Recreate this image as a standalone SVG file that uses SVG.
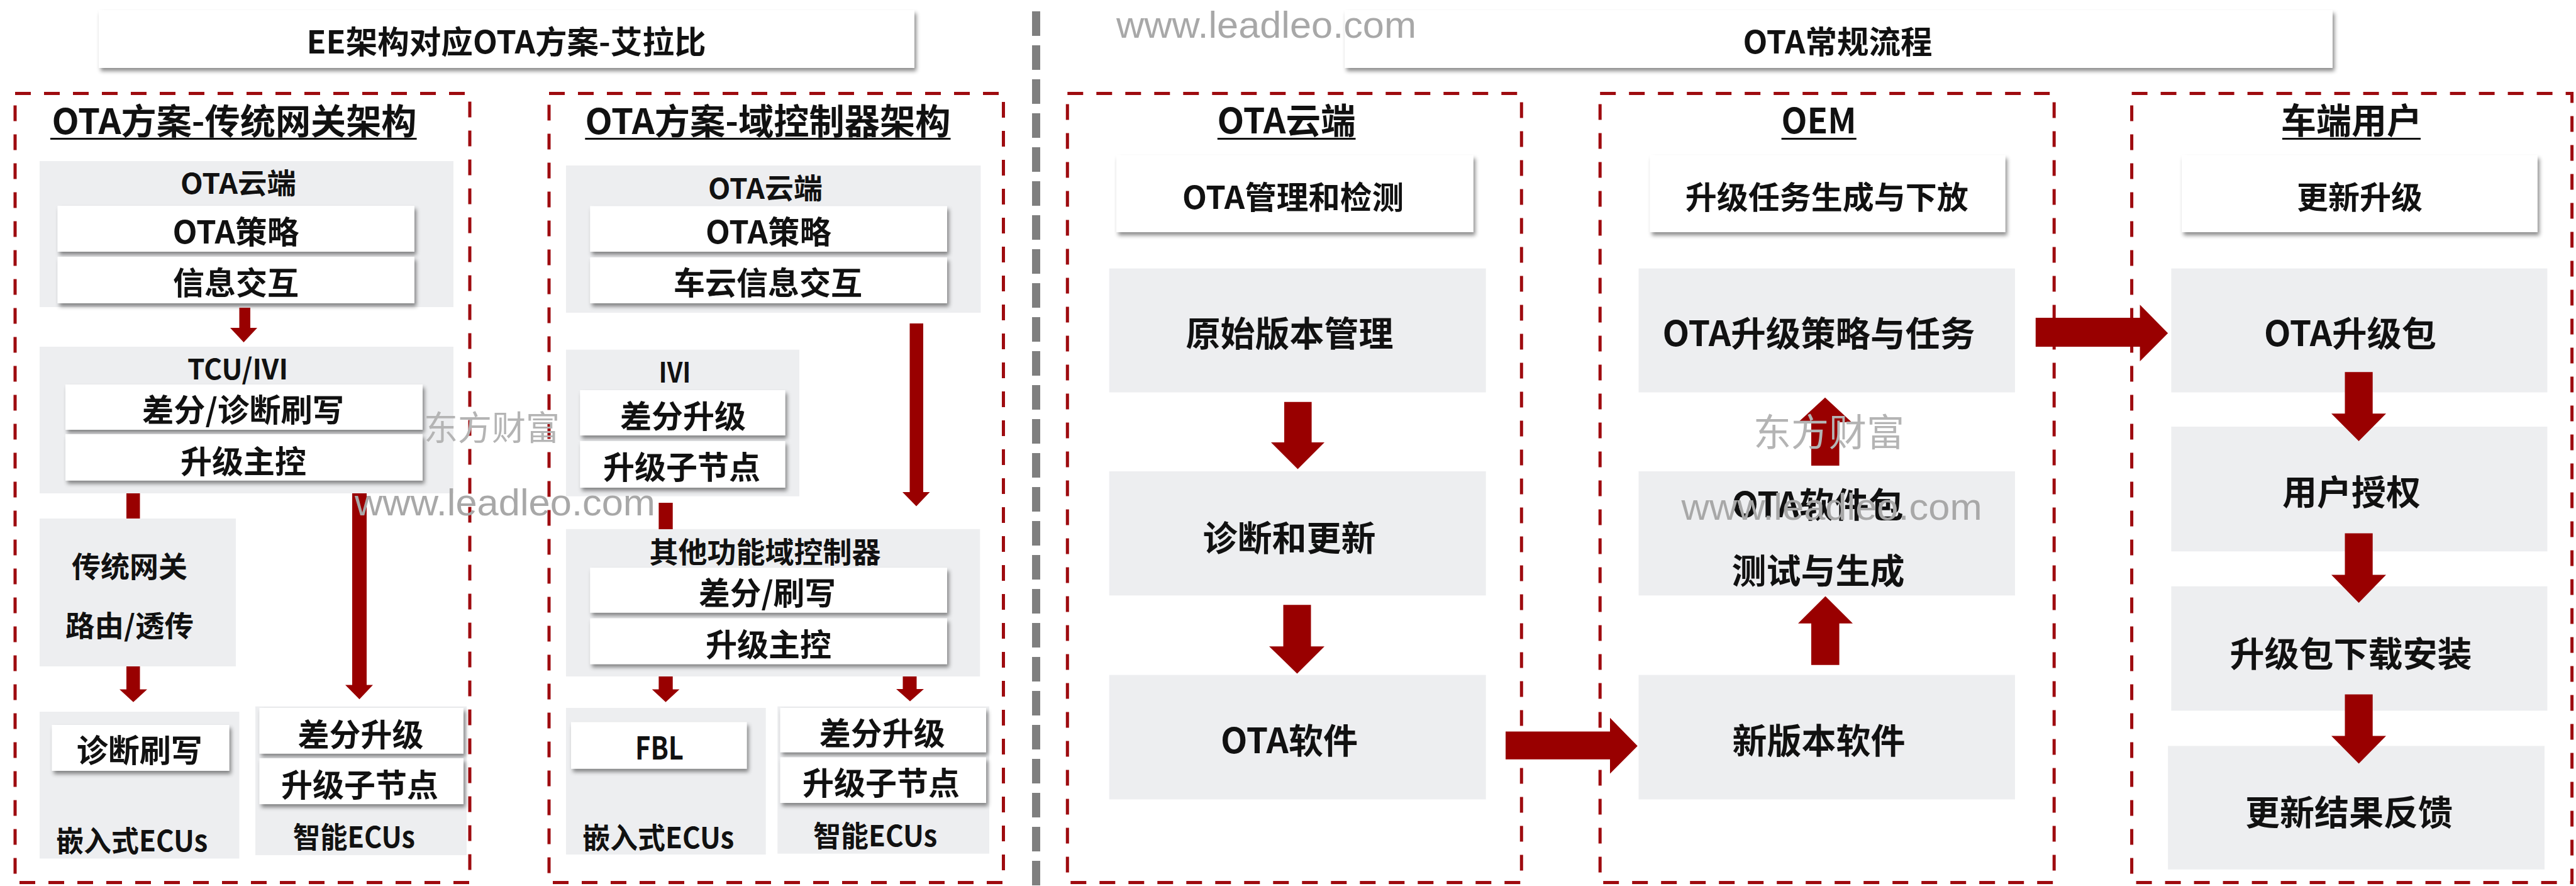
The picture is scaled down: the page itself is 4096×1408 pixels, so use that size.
<svg xmlns="http://www.w3.org/2000/svg" width="4096" height="1408" viewBox="0 0 4096 1408">
<defs>
<filter id="sh" x="-5%" y="-20%" width="115%" height="150%">
<feDropShadow dx="3" dy="5" stdDeviation="3" flood-color="#000" flood-opacity="0.45"/>
</filter>
<style>
.dash{fill:none;stroke:#9E0B0F;stroke-width:5;stroke-dasharray:25 21}
.panel{fill:#EDEEF0}
.wbox{fill:#fff;filter:url(#sh)}
.t{font-family:"Noto Sans CJK SC","Noto Sans",sans-serif;fill:#111;text-anchor:middle;font-weight:700}
.s50{font-size:50px}
.s46{font-size:46px}
.s45{font-size:45px}
.s55{font-size:55px}
.h{font-size:56px}
.ul{stroke:#111;stroke-width:3}
.arr{fill:#990000}
.wm{font-family:"Liberation Sans",Arial,sans-serif;fill:#a8a8a8;font-size:60px}
.wmc{font-family:"Noto Sans CJK SC",sans-serif;fill:#b4b4b4;text-anchor:middle}
</style>
</defs>
<rect width="4096" height="1408" fill="#fff"/>

<!-- divider -->
<line x1="1647.5" y1="18" x2="1647.5" y2="1408" stroke="#7f7f7f" stroke-width="13" stroke-dasharray="39 15"/>

<!-- titles -->
<g id="title-left">
<rect class="wbox" x="157" y="16" width="1297" height="92"/>
<text class="t s50" x="805" y="85" textLength="635" lengthAdjust="spacingAndGlyphs">EE架构对应OTA方案-艾拉比</text>
</g>
<g id="title-right">
<rect class="wbox" x="2138" y="16" width="1571" height="92"/>
<text class="t s50" x="2922" y="85" textLength="301" lengthAdjust="spacingAndGlyphs">OTA常规流程</text>
</g>

<!-- Left: traditional gateway -->
<g id="group-gateway">
<rect class="dash" x="24" y="148.5" width="723" height="1254"/>
<text class="t h" x="372.5" y="213" textLength="580" lengthAdjust="spacingAndGlyphs">OTA方案-传统网关架构</text>
<line class="ul" x1="80" y1="220.5" x2="662.6" y2="220.5"/>
</g>
<g id="a-cloud">
<rect class="panel" x="63" y="256" width="658" height="232"/>
<text class="t s45" x="379" y="308" textLength="184" lengthAdjust="spacingAndGlyphs">OTA云端</text>
<rect class="wbox" x="91.5" y="327" width="567.5" height="73"/>
<text class="t s50" x="375" y="387" textLength="201" lengthAdjust="spacingAndGlyphs">OTA策略</text>
<rect class="wbox" x="91.5" y="408" width="567.5" height="74"/>
<text class="t s50" x="375" y="468">信息交互</text>
</g>
<g id="a-tcu">
<rect class="panel" x="63" y="551" width="658" height="233"/>
<text class="t s45" x="378" y="603" textLength="160" lengthAdjust="spacingAndGlyphs">TCU/IVI</text>
<rect class="wbox" x="104" y="611" width="568" height="72"/>
<text class="t s50" x="386.5" y="669.5" textLength="321" lengthAdjust="spacingAndGlyphs">差分/诊断刷写</text>
<rect class="wbox" x="104" y="690" width="568" height="73.6"/>
<text class="t s50" x="387" y="752">升级主控</text>
</g>
<g id="a-gateway">
<rect class="panel" x="63" y="824" width="312" height="235"/>
<text class="t s46" x="206" y="917">传统网关</text>
<text class="t s46" x="206" y="1010.5" textLength="204" lengthAdjust="spacingAndGlyphs">路由/透传</text>
</g>
<g id="a-embedded">
<rect class="panel" x="63" y="1131" width="317.5" height="233.4"/>
<rect class="wbox" x="82.5" y="1152" width="282" height="73"/>
<text class="t s50" x="221.7" y="1211">诊断刷写</text>
<text class="t s46" x="209.7" y="1352.5" textLength="241" lengthAdjust="spacingAndGlyphs">嵌入式ECUs</text>
</g>
<g id="a-smart">
<rect class="panel" x="406" y="1122.6" width="336" height="236.4"/>
<rect class="wbox" x="412.5" y="1125" width="324.5" height="72.6"/>
<text class="t s50" x="573.4" y="1186">差分升级</text>
<rect class="wbox" x="412.5" y="1205" width="324.5" height="73"/>
<text class="t s50" x="572" y="1265.6">升级子节点</text>
<text class="t s46" x="563" y="1347" textLength="194" lengthAdjust="spacingAndGlyphs">智能ECUs</text>
</g>

<!-- Middle: domain controller -->
<g id="group-domain">
<rect class="dash" x="873" y="148.5" width="722.5" height="1254"/>
<text class="t h" x="1221" y="213" textLength="581" lengthAdjust="spacingAndGlyphs">OTA方案-域控制器架构</text>
<line class="ul" x1="930.3" y1="220.5" x2="1511.5" y2="220.5"/>
</g>
<g id="b-cloud">
<rect class="panel" x="900" y="263" width="659.4" height="234"/>
<text class="t s45" x="1217" y="316" textLength="182" lengthAdjust="spacingAndGlyphs">OTA云端</text>
<rect class="wbox" x="938.3" y="327.5" width="567.7" height="72.5"/>
<text class="t s50" x="1222" y="387" textLength="200" lengthAdjust="spacingAndGlyphs">OTA策略</text>
<rect class="wbox" x="938.3" y="409" width="567.7" height="73"/>
<text class="t s50" x="1221" y="468">车云信息交互</text>
</g>
<g id="b-ivi">
<rect class="panel" x="900" y="555.7" width="371" height="233"/>
<text class="t s45" x="1073" y="608" textLength="51" lengthAdjust="spacingAndGlyphs">IVI</text>
<rect class="wbox" x="922.3" y="620" width="326.2" height="72"/>
<text class="t s50" x="1086" y="680">差分升级</text>
<rect class="wbox" x="922.3" y="701" width="326.2" height="74"/>
<text class="t s50" x="1084" y="761">升级子节点</text>
</g>
<g id="b-domain">
<rect class="panel" x="900" y="840.8" width="658.3" height="234.2"/>
<text class="t s46" x="1216.4" y="894">其他功能域控制器</text>
<rect class="wbox" x="938.3" y="902.2" width="567.7" height="71.4"/>
<text class="t s50" x="1220" y="961" textLength="218" lengthAdjust="spacingAndGlyphs">差分/刷写</text>
<rect class="wbox" x="938.3" y="982.6" width="567.7" height="72.8"/>
<text class="t s50" x="1222" y="1043">升级主控</text>
</g>
<g id="b-embedded">
<rect class="panel" x="900" y="1125" width="317.7" height="233"/>
<rect class="wbox" x="908" y="1147.6" width="279.4" height="74"/>
<text class="t s50" x="1048.5" y="1206.5" textLength="77" lengthAdjust="spacingAndGlyphs">FBL</text>
<text class="t s46" x="1046.7" y="1348" textLength="241" lengthAdjust="spacingAndGlyphs">嵌入式ECUs</text>
</g>
<g id="b-smart">
<rect class="panel" x="1236.3" y="1122.6" width="336.7" height="234"/>
<rect class="wbox" x="1240.6" y="1125" width="327.4" height="70.4"/>
<text class="t s50" x="1402.7" y="1184">差分升级</text>
<rect class="wbox" x="1240.6" y="1203.5" width="327.4" height="72.5"/>
<text class="t s50" x="1401" y="1263.4">升级子节点</text>
<text class="t s46" x="1391.7" y="1345.4" textLength="197" lengthAdjust="spacingAndGlyphs">智能ECUs</text>
</g>

<!-- Right: OTA cloud -->
<g id="c-cloud">
<rect class="dash" x="1697.3" y="148.5" width="722" height="1254"/>
<text class="t h" x="2045.6" y="211.5" textLength="220" lengthAdjust="spacingAndGlyphs">OTA云端</text>
<line class="ul" x1="1935.8" y1="220.5" x2="2155.5" y2="220.5"/>
</g>
<g id="c-manage">
<rect class="wbox" x="1775" y="246.7" width="567.8" height="122.3"/>
<text class="t s50" x="2056" y="332" textLength="352" lengthAdjust="spacingAndGlyphs">OTA管理和检测</text>
</g>
<g id="c-orig">
<rect class="panel" x="1763.7" y="426.6" width="599" height="196.9"/>
<text class="t s55" x="2050.4" y="550.4">原始版本管理</text>
</g>
<g id="c-diag">
<rect class="panel" x="1763.7" y="749" width="599" height="197.3"/>
<text class="t s55" x="2050" y="874.5">诊断和更新</text>
</g>
<g id="c-sw">
<rect class="panel" x="1763.7" y="1072.6" width="599" height="197.8"/>
<text class="t s55" x="2050" y="1197" textLength="218" lengthAdjust="spacingAndGlyphs">OTA软件</text>
</g>

<!-- OEM -->
<g id="d-oem">
<rect class="dash" x="2544.2" y="148.5" width="722" height="1254"/>
<text class="t h" x="2892" y="211.5" textLength="119" lengthAdjust="spacingAndGlyphs">OEM</text>
<line class="ul" x1="2832.6" y1="220.5" x2="2951.8" y2="220.5"/>
</g>
<g id="d-task">
<rect class="wbox" x="2623.7" y="246.7" width="564.8" height="122.3"/>
<text class="t s50" x="2904.7" y="332">升级任务生成与下放</text>
</g>
<g id="d-strategy">
<rect class="panel" x="2605.5" y="426.6" width="598.4" height="196.9"/>
<text class="t s55" x="2892" y="550.4" textLength="497" lengthAdjust="spacingAndGlyphs">OTA升级策略与任务</text>
</g>
<g id="d-pkg">
<rect class="panel" x="2605.5" y="749" width="598.5" height="197.3"/>
<text class="t s55" x="2890" y="822" textLength="273" lengthAdjust="spacingAndGlyphs">OTA软件包</text>
<text class="t s55" x="2891" y="926.7">测试与生成</text>
</g>
<g id="d-new">
<rect class="panel" x="2605.5" y="1072.6" width="598.5" height="197.8"/>
<text class="t s55" x="2892" y="1197">新版本软件</text>
</g>

<!-- vehicle user -->
<g id="e-user">
<rect class="dash" x="3389.6" y="148.5" width="700" height="1254"/>
<text class="t h" x="3739" y="211.5">车端用户</text>
<line class="ul" x1="3628.9" y1="220.5" x2="3849" y2="220.5"/>
</g>
<g id="e-update">
<rect class="wbox" x="3469" y="246.7" width="565.8" height="122.3"/>
<text class="t s50" x="3752" y="332">更新升级</text>
</g>
<g id="e-pkg">
<rect class="panel" x="3452.4" y="426.6" width="598" height="196.9"/>
<text class="t s55" x="3737" y="550.4" textLength="274" lengthAdjust="spacingAndGlyphs">OTA升级包</text>
</g>
<g id="e-auth">
<rect class="panel" x="3452.4" y="678" width="598" height="198.3"/>
<text class="t s55" x="3739" y="801.8">用户授权</text>
</g>
<g id="e-install">
<rect class="panel" x="3452.4" y="931.7" width="598" height="197.7"/>
<text class="t s55" x="3738" y="1058.5">升级包下载安装</text>
</g>
<g id="e-feedback">
<rect class="panel" x="3447.2" y="1185.4" width="598.8" height="196.3"/>
<text class="t s55" x="3735" y="1310.8">更新结果反馈</text>
</g>

<!-- connectors -->
<g id="connectors" class="arr">
<polygon points="380.5,489 398,489 398,521 409,521 387.5,544 366,521 380.5,521"/>
<rect x="201" y="784" width="21.5" height="40"/>
<polygon points="201,1059 222.5,1059 222.5,1095.4 234,1095.4 212,1115.8 190,1095.4 201,1095.4"/>
<polygon points="560,784 583,784 583,1088.5 593,1088.5 571.5,1111.3 549,1088.5 560,1088.5"/>
<polygon points="1446.5,514 1468,514 1468,782 1478.5,782 1457,804.5 1435,782 1446.5,782"/>
<rect x="1047.4" y="799" width="22.3" height="42"/>
<polygon points="1047.4,1075 1069.7,1075 1069.7,1095.4 1080.4,1095.4 1058.5,1115.8 1036.7,1095.4 1047.4,1095.4"/>
<polygon points="1435.5,1075 1457.5,1075 1457.5,1095 1469,1095 1447,1114.5 1425,1095 1435.5,1095"/>
<polygon points="2042,638.8 2085.6,638.8 2085.6,703 2106,703 2063.5,745.4 2021,703 2042,703"/>
<polygon points="2040.5,961.3 2084.5,961.3 2084.5,1027.2 2106,1027.2 2062.5,1070.4 2018,1027.2 2040.5,1027.2"/>
<polygon points="2394,1162.6 2560,1162.6 2560,1140.8 2603.8,1185.4 2560,1229.4 2560,1206.7 2394,1206.7"/>
<polygon points="2880,740 2924.6,740 2924.6,671 2944.4,671 2902,631.8 2859.3,671 2880,671"/>
<polygon points="2880,1056.7 2924.6,1056.7 2924.6,990.8 2946,990.8 2902.5,947.6 2859,990.8 2880,990.8"/>
<polygon points="3236.8,505 3402.6,505 3402.6,484.3 3447.2,529.5 3402.6,574.2 3402.6,551 3236.8,551"/>
<polygon points="3728.5,591.3 3772.7,591.3 3772.7,657.2 3794,657.2 3750.6,701 3707,657.2 3728.5,657.2"/>
<polygon points="3728.5,847.6 3772.7,847.6 3772.7,913.6 3794,913.6 3750.6,958.1 3707,913.6 3728.5,913.6"/>
<polygon points="3728.5,1103.5 3772.7,1103.5 3772.7,1169.4 3794,1169.4 3750.6,1213.5 3707,1169.4 3728.5,1169.4"/>
</g>

<!-- watermarks -->
<g id="watermarks">
<text class="wm" x="1775" y="60" textLength="477" lengthAdjust="spacingAndGlyphs">www.leadleo.com</text>
<text class="wm" x="564" y="819" textLength="478" lengthAdjust="spacingAndGlyphs">www.leadleo.com</text>
<text class="wm" x="2673.6" y="826" textLength="478" lengthAdjust="spacingAndGlyphs">www.leadleo.com</text>
<text class="wmc" x="782" y="700" font-size="54">东方财富</text>
<text class="wmc" x="2908" y="709" font-size="60">东方财富</text>
</g>
</svg>
